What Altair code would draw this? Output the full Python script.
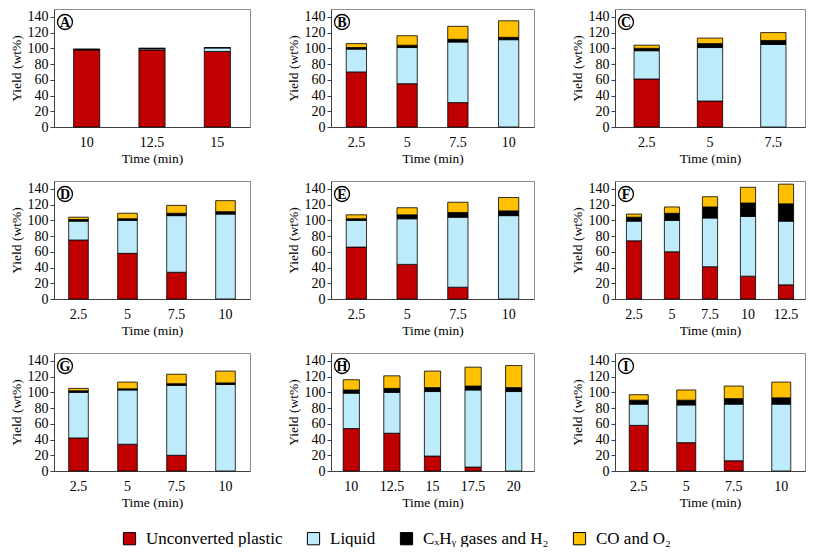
import altair as alt
import pandas as pd

components = ["Unconverted plastic", "Liquid", "CₓHᵧ gases and H₂", "CO and O₂"]
colors = ["#C00000", "#BDEBF9", "#000000", "#FFC000"]

# Panel A
times_A = ["10", "12.5", "15"]
plastic_A = [98, 98, 96]
liquid_A = [0, 1.5, 4.5]
gas_A = [1.2, 0.8, 0.5]
co_A = [0, 0, 0]
# Panel B
times_B = ["2.5", "5", "7.5", "10"]
plastic_B = [70, 55, 31, 0]
liquid_B = [29, 46, 77, 111]
gas_B = [2, 3, 3.5, 3]
co_B = [5, 12, 16.5, 21]
# Panel C
times_C = ["2.5", "5", "7.5"]
plastic_C = [61, 33, 0]
liquid_C = [36, 68, 105]
gas_C = [3, 5, 5]
co_C = [4, 7, 10]
# Panel D
times_D = ["2.5", "5", "7.5", "10"]
plastic_D = [75, 58, 34, 0]
liquid_D = [24, 42, 72, 108]
gas_D = [2, 2, 3, 3]
co_D = [3, 7, 10, 14]
# Panel E
times_E = ["2.5", "5", "7.5", "10"]
plastic_E = [66, 44, 15, 0]
liquid_E = [34, 58, 89, 106]
gas_E = [2, 5, 6, 6]
co_E = [5, 9, 13, 17]
# Panel F
times_F = ["2.5", "5", "7.5", "10", "12.5"]
plastic_F = [74, 60, 41, 29, 18]
liquid_F = [25, 40, 62, 76, 81]
gas_F = [5, 9, 14, 17, 22]
co_F = [4, 8, 13, 20, 25]
# Panel G
times_G = ["2.5", "5", "7.5", "10"]
plastic_G = [42, 34, 20, 0]
liquid_G = [58, 69, 89, 110]
gas_G = [2, 1.5, 2, 2]
co_G = [3, 8.5, 12, 15]
# Panel H
times_H = ["10", "12.5", "15", "17.5", "20"]
plastic_H = [54, 48, 19, 5, 0]
liquid_H = [45, 52, 82, 98, 101]
gas_H = [4, 5, 5, 5, 5]
co_H = [13, 16, 21, 24, 28]
# Panel I
times_I = ["2.5", "5", "7.5", "10"]
plastic_I = [58, 36, 13, 0]
liquid_I = [27, 48, 72, 85]
gas_I = [5, 6, 7, 8]
co_I = [7, 13, 16, 20]

y_ticks = [0, 20, 40, 60, 80, 100, 120, 140]

panels = {
    "A": (times_A, [plastic_A, liquid_A, gas_A, co_A]),
    "B": (times_B, [plastic_B, liquid_B, gas_B, co_B]),
    "C": (times_C, [plastic_C, liquid_C, gas_C, co_C]),
    "D": (times_D, [plastic_D, liquid_D, gas_D, co_D]),
    "E": (times_E, [plastic_E, liquid_E, gas_E, co_E]),
    "F": (times_F, [plastic_F, liquid_F, gas_F, co_F]),
    "G": (times_G, [plastic_G, liquid_G, gas_G, co_G]),
    "H": (times_H, [plastic_H, liquid_H, gas_H, co_H]),
    "I": (times_I, [plastic_I, liquid_I, gas_I, co_I]),
}

FONT = "Liberation Serif"
H = 118
col_w = [196, 203, 190]


def panel(letter, w):
    times, series = panels[letter]
    rows = []
    for ci, (comp, vals) in enumerate(zip(components, series)):
        for t, v in zip(times, vals):
            if v > 0:
                rows.append({"time": t, "component": comp, "idx": ci, "value": v})
    df = pd.DataFrame(rows)
    bars = alt.Chart(df).mark_bar(stroke="black", strokeWidth=0.8).encode(
        x=alt.X("time:N", sort=times, title="Time (min)",
                scale=alt.Scale(paddingInner=0.6, paddingOuter=0.3),
                axis=alt.Axis(labelAngle=0, ticks=False, labelPadding=8, titlePadding=2)),
        y=alt.Y("value:Q", stack="zero", title="Yield (wt%)",
                scale=alt.Scale(domain=[0, 150], nice=False),
                axis=alt.Axis(values=y_ticks, tickSize=4, labelPadding=2, titlePadding=4)),
        color=alt.Color("component:N",
                        scale=alt.Scale(domain=components, range=colors),
                        legend=alt.Legend(title=None, orient="none", direction="horizontal",
                                          legendX=67, legendY=521, columns=4,
                                          symbolType="square", symbolSize=150,
                                          symbolStrokeColor="black", symbolStrokeWidth=1,
                                          labelFont=FONT, labelFontSize=17, labelLimit=0,
                                          columnPadding=22, labelOffset=8)),
        order=alt.Order("idx:Q", sort="ascending"),
    )
    lab = pd.DataFrame({"label": [letter]})
    circ = alt.Chart(lab).mark_point(shape="circle", size=225, filled=False,
                                     stroke="black", strokeWidth=1.3, opacity=1).encode(
        x=alt.value(11), y=alt.value(13))
    txt = alt.Chart(lab).mark_text(font=FONT, fontWeight="bold", fontSize=14,
                                   baseline="middle", align="center", dy=1).encode(
        text="label:N", x=alt.value(11), y=alt.value(13))
    return alt.layer(bars, circ, txt).properties(width=w, height=H)


rows = []
for r in [["A", "B", "C"], ["D", "E", "F"], ["G", "H", "I"]]:
    rows.append(alt.hconcat(*[panel(l, col_w[i]) for i, l in enumerate(r)], spacing=34))

chart = alt.vconcat(*rows, spacing=15).properties(padding=0).configure_axis(
    labelFont=FONT, titleFont=FONT, labelFontSize=14, titleFontSize=13.5,
    titleFontWeight="normal", labelColor="black", titleColor="black",
    domainColor="#404040", tickColor="#404040", grid=False
).configure_view(stroke="#8c8c8c", strokeWidth=1)

chart.save("out.html", embed_options={"renderer": "svg", "actions": False})
